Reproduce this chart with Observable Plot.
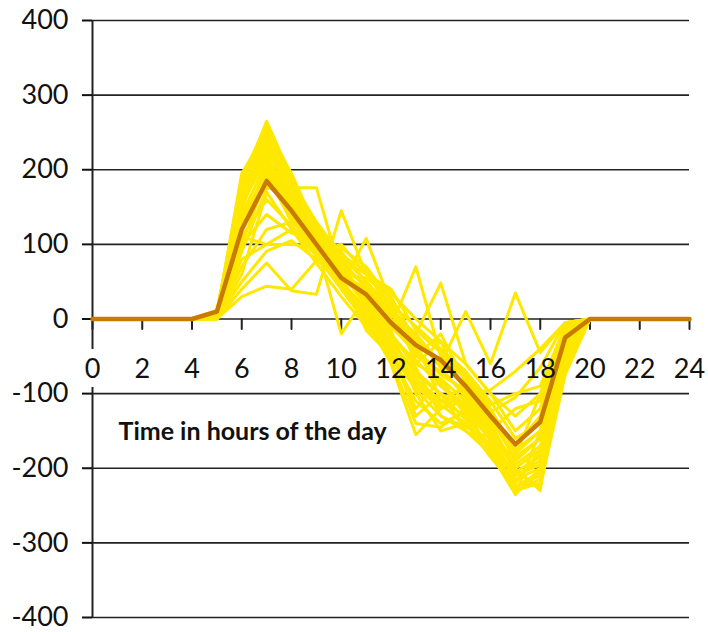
<!DOCTYPE html>
<html><head><meta charset="utf-8">
<script src="https://cdn.jsdelivr.net/npm/d3@7"></script>
<script src="https://cdn.jsdelivr.net/npm/@observablehq/plot@0.6"></script>
<style>body{margin:0;background:#fff}</style>
</head><body><div id="chart"></div>
<script>
const hours = [0,1,2,3,4,5,6,7,8,9,10,11,12,13,14,15,16,17,18,19,20,21,22,23,24];
const xTicks = [0,2,4,6,8,10,12,14,16,18,20,22,24];
const yTicks = [-400,-300,-200,-100,0,100,200,300,400];
const axisLabel = "Time in hours of the day";

// individual days (yellow)
const s1  = [0,0,0,0,0,10,180,265,190,120,70,30,-20,-60,-80,-110,-150,-220,-180,-40,0,0,0,0,0];
const s2  = [0,0,0,0,0,5,195,250,180,110,60,20,-30,-70,-100,-120,-160,-235,-200,-30,0,0,0,0,0];
const s3  = [0,0,0,0,0,8,170,240,170,115,80,40,0,-50,-70,-100,-140,-200,-230,-20,0,0,0,0,0];
const s4  = [0,0,0,0,0,12,160,230,160,100,50,10,-40,-80,-110,-130,-170,-210,-190,-50,0,0,0,0,0];
const s5  = [0,0,0,0,0,6,150,225,175,125,90,50,10,-30,-60,-90,-130,-190,-160,-10,0,0,0,0,0];
const s6  = [0,0,0,0,0,4,140,210,150,105,65,25,-15,-100,-150,-140,-185,-225,-210,-60,0,0,0,0,0];
const s7  = [0,0,0,0,0,10,185,245,165,95,45,108,20,-40,-90,-115,-155,-200,-175,-25,0,0,0,0,0];
const s8  = [0,0,0,0,0,3,130,200,140,90,55,35,-10,70,-50,-80,-120,-180,-150,-15,0,0,0,0,0];
const s9  = [0,0,0,0,0,2,100,190,135,85,40,0,-60,-155,-120,-100,-165,-215,-200,-45,0,0,0,0,0];
const s10 = [0,0,0,0,0,0,60,170,120,75,30,-10,-45,-120,-80,-130,-175,-230,-220,-70,0,0,0,0,0];
const s11 = [0,0,0,0,0,5,80,100,100,95,70,45,5,-20,48,-60,-100,-150,-120,-5,0,0,0,0,0];
const s12 = [0,0,0,0,0,0,40,75,38,33,145,60,20,-10,-40,-70,-110,-160,-140,-30,0,0,0,0,0];
const s13 = [0,0,0,0,0,0,30,44,40,78,60,40,10,-20,-60,10,-60,35,-45,-5,0,0,0,0,0];
const s14 = [0,0,0,0,0,3,90,175,176,176,60,20,-25,-55,-90,-120,-150,-195,-170,-35,0,0,0,0,0];
const s15 = [0,0,0,0,0,2,70,120,130,100,-20,30,-5,-40,-75,-95,-135,-185,-160,-20,0,0,0,0,0];
const s16 = [0,0,0,0,0,0,50,91,105,80,60,55,30,-30,-110,-90,-140,-170,-130,-10,0,0,0,0,0];
const s17 = [0,0,0,0,0,6,175,235,185,130,85,50,15,-25,-65,-105,-145,-205,-185,-40,0,0,0,0,0];
const s18 = [0,0,0,0,0,8,165,220,155,110,75,45,-20,-65,-130,-150,-180,-225,-205,-55,0,0,0,0,0];
const s19 = [0,0,0,0,0,4,120,205,145,100,50,15,-35,-90,-120,-110,-125,-175,-150,-30,0,0,0,0,0];
const s20 = [0,0,0,0,0,2,110,160,125,90,100,60,40,-15,-45,-75,-115,-100,-90,-10,0,0,0,0,0];
const s21 = [0,0,0,0,0,7,155,215,160,115,65,35,-10,-45,-85,-125,-160,-210,-195,-50,0,0,0,0,0];
const s22 = [0,0,0,0,0,0,100,140,115,105,80,60,35,0,-30,-60,-100,-130,-100,-15,0,0,0,0,0];
const s23 = [0,0,0,0,0,5,145,255,195,120,70,25,-30,-75,-100,-135,-170,-230,-215,-65,0,0,0,0,0];
const s24 = [0,0,0,0,0,3,125,180,150,95,45,5,-50,-110,-140,-125,-150,-120,-110,-20,0,0,0,0,0];
const s25 = [0,0,0,0,0,4,150,230,170,110,40,-5,-40,-130,-100,-150,-170,-205,-225,-75,0,0,0,0,0];
const s26 = [0,0,0,0,0,6,190,260,185,125,75,20,-55,-140,-145,-120,-180,-235,-150,-40,0,0,0,0,0];
const s27 = [0,0,0,0,0,2,110,100,120,85,95,70,25,-60,-30,-100,-95,-70,-40,-5,0,0,0,0,0];
const s28 = [0,0,0,0,0,5,160,245,170,105,50,0,-45,-95,-130,-145,-160,-185,-100,-10,0,0,0,0,0];
const s29 = [0,0,0,0,0,3,135,195,130,120,85,65,10,-50,-20,-85,-125,-105,-65,-5,0,0,0,0,0];
const s30 = [0,0,0,0,0,8,175,240,160,100,60,-15,-50,-85,-115,-140,-175,-220,-175,-35,0,0,0,0,0];
// average (dark orange)
const avg = [0,0,0,0,0,10,120,185,145,100,55,33,-5,-35,-55,-90,-130,-168,-138,-25,0,0,0,0,0];

const days = [s1,s2,s3,s4,s5,s6,s7,s8,s9,s10,s11,s12,s13,s14,s15,s16,s17,s18,s19,s20,s21,s22,s23,s24,s25,s26,s27,s28,s29,s30];
const dayRows = days.flatMap((s, i) => hours.map((h, j) => ({day: i, hour: h, value: s[j]})));
const avgRows = hours.map((h, j) => ({hour: h, value: avg[j]}));

const chart = Plot.plot({
  width: 708,
  height: 632,
  marginTop: 20,
  marginBottom: 15,
  marginLeft: 92,
  marginRight: 19,
  style: {fontFamily: "Lato", fontSize: "27px", color: "#111", background: "#fff"},
  x: {domain: [0, 24], axis: null},
  y: {domain: [-400, 400]},
  marks: [
    Plot.ruleY(yTicks, {stroke: "#222", strokeWidth: 1.6}),
    Plot.ruleX([0], {stroke: "#222", strokeWidth: 2}),
    Plot.axisY({ticks: yTicks, tickSize: 10, tickPadding: 14, strokeWidth: 2, tickFormat: d => String(d), label: null, fontSize: 27}),
    Plot.vector(xTicks, {x: d => d, y: d => 0, length: 10, rotate: 180, anchor: "start", shape: "spike", r: 0, stroke: "#222", strokeWidth: 2}),
    // white label boxes that interrupt the axis line (under the data lines)
    Plot.text(xTicks, {x: d => d, y: d => 0, dy: 50, text: d => String(d), fontSize: 27, fill: "white", stroke: "white", strokeWidth: 18}),
    Plot.text([axisLabel], {frameAnchor: "left", dx: 26, dy: 113, textAnchor: "start", fontWeight: "bold", fontSize: 25, fill: "#111"}),
    Plot.line(dayRows, {x: "hour", y: "value", z: "day", stroke: "#FFE800", strokeWidth: 3}),
    Plot.line(avgRows, {x: "hour", y: "value", stroke: "#C97A00", strokeWidth: 4.5}),
    Plot.text(xTicks, {x: d => d, y: d => 0, dy: 50, text: d => String(d), fontSize: 27, fill: "#111"})
  ]
});
document.getElementById("chart").append(chart);
</script>
</body></html>
